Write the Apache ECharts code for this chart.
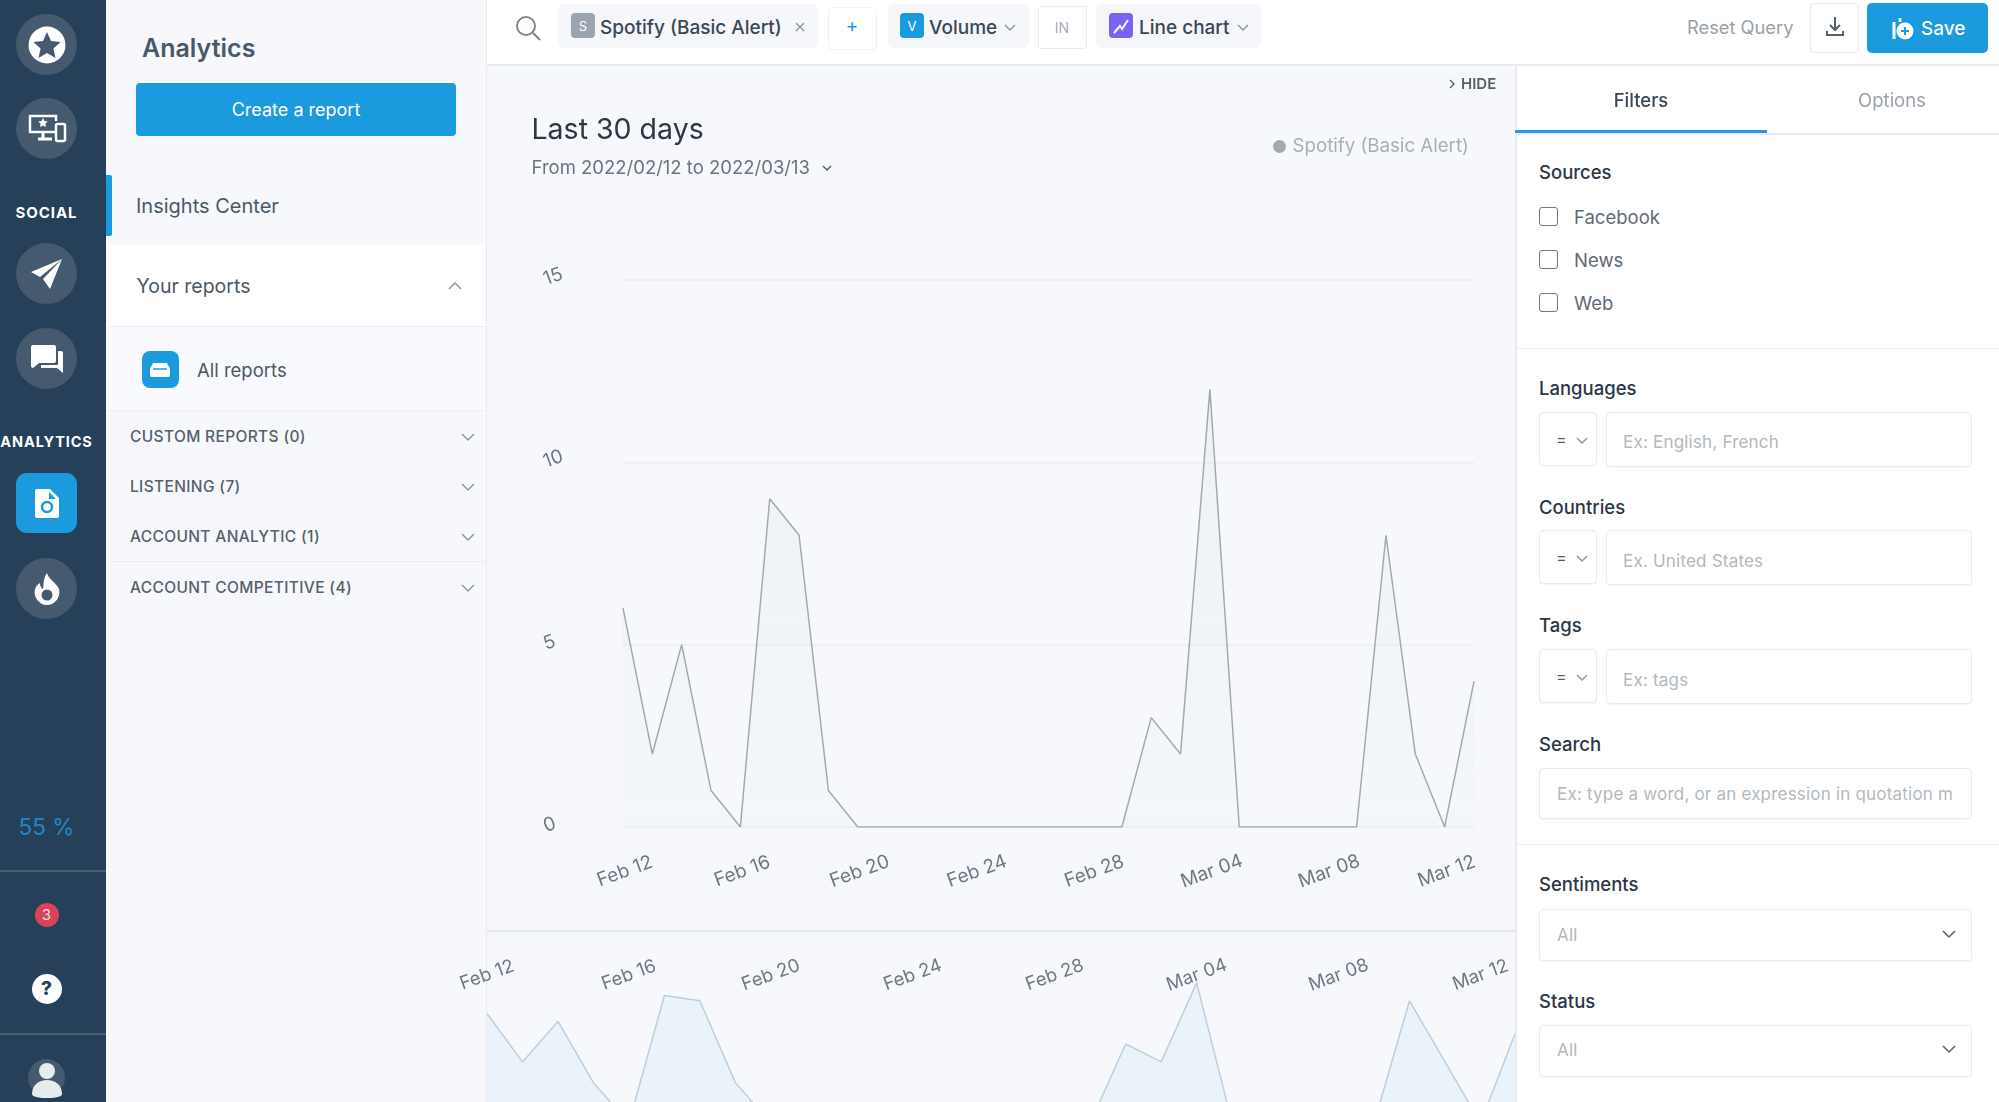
<!DOCTYPE html>
<html>
<head>
<meta charset="utf-8">
<title>Analytics</title>
<script src="https://cdn.jsdelivr.net/npm/echarts@6/dist/echarts.min.js"></script>
<style>
html, body { margin: 0; padding: 0; width: 1999px; height: 1102px; overflow: hidden; background: #f6f8fc; font-family: Inter, "Noto Sans", sans-serif; color: #3b4754; }
.box { position: absolute; box-sizing: border-box; }
.t { position: absolute; transform: translateY(-50%); white-space: nowrap; line-height: 1.2; }
.c { transform: translate(-50%, -50%); }
.nav-circle { position: absolute; left: 16px; width: 61px; height: 61px; border-radius: 50%; background: #45596f; display: flex; align-items: center; justify-content: center; }
.item { font-size: 15.5px; font-weight: 500; color: #56616c; letter-spacing: .35px; left: 130px; }
.label { font-size: 18.5px; font-weight: 500; color: #2b3744; left: 1539px; }
.check { position: absolute; left: 1539px; width: 19px; height: 19px; box-sizing: border-box; border: 1.5px solid #6d7781; border-radius: 3px; background: #fff; }
.checktxt { font-size: 18.5px; color: #5f6a75; left: 1574px; }
.input { position: absolute; box-sizing: border-box; background: #fff; border: 1px solid #e8ebef; border-radius: 4px; box-shadow: 0 1px 1px rgba(40,60,80,.04); }
.ph { font-size: 17px; color: #b2b9c0; letter-spacing: .2px; }
.chip { position: absolute; top: 4px; height: 44px; background: #f5f7fb; border-radius: 6px; }
.chiptxt { font-size: 19px; font-weight: 500; color: #3b4754; top: 27.5px; }
.tag { position: absolute; top: 13px; width: 24px; height: 25px; border-radius: 4px; color: #fff; font-size: 13px; display: flex; align-items: center; justify-content: center; }
svg { position: absolute; overflow: visible; }
.chev { fill: none; stroke: #8f98a2; stroke-width: 1.5; }
#chart { position: absolute; left: 437px; top: 66px; width: 1078px; height: 1036px; }
</style>
</head>
<body>
<!-- left icon rail -->
<div class="box" style="left:0;top:0;width:106px;height:1102px;background:#26405a"></div>
<div class="nav-circle" style="top:14px"><svg width="38" height="38" style="position:static" viewBox="0 0 38 38"><circle cx="19" cy="19" r="18.5" fill="#fff"/><path d="M19 6l4 9 9.6 1-7.2 6.4 2.1 9.5-8.5-4.9-8.500 4.900 2.100-9.500L5.400 16l9.600-1z" fill="#45596f"/></svg></div>
<div class="nav-circle" style="top:98px"><svg width="38" height="30" style="position:static" viewBox="0 0 38 30"><path d="M28 18H2V2h26v5" fill="none" stroke="#fff" stroke-width="2.500"/><path d="M10 25h14M15 18v7" stroke="#fff" stroke-width="3"/><rect x="28" y="10" width="9" height="17" rx="1.500" fill="none" stroke="#fff" stroke-width="2.500"/><path d="M15 4l1.500 3 3.300.400-2.400 2.300.600 3.300-3-1.600-3 1.600.600-3.300-2.400-2.300 3.300-.400z" fill="#fff"/></svg></div>
<div class="t c" style="left:46.500px;top:212.500px;color:#fff;font-size:15px;font-weight:700;letter-spacing:.9px">SOCIAL</div>
<div class="nav-circle" style="top:243px"><svg width="32" height="30" style="position:static" viewBox="0 0 32 30"><path d="M31 0L0 13l9 5zM31 0L12 20l7 10z" fill="#fff"/></svg></div>
<div class="nav-circle" style="top:328px"><svg width="32" height="30" style="position:static" viewBox="0 0 32 30"><path d="M2 0h21a2 2 0 012 2v14a2 2 0 01-2 2H8l-6 5a2 2 0 01-2-2V2a2 2 0 012-2z" fill="#fff" transform="translate(0,1)"/><path d="M27 7h3a2 2 0 012 2v20l-6-5H10v-3h16a1 1 0 001-1z" fill="#fff"/></svg></div>
<div class="t c" style="left:46.500px;top:441.500px;color:#fff;font-size:14.500px;font-weight:700;letter-spacing:.9px">ANALYTICS</div>
<div class="box" style="left:16px;top:473px;width:61px;height:60px;border-radius:11px;background:#1b9ade;display:flex;align-items:center;justify-content:center"><svg width="24" height="29" style="position:static" viewBox="0 0 24 29"><path d="M2 0h13l9 9v18a2 2 0 01-2 2H2a2 2 0 01-2-2V2a2 2 0 012-2z" fill="#fff"/><circle cx="12" cy="18" r="5" fill="none" stroke="#1b9ade" stroke-width="2.500"/><path d="M14 3v7h7" fill="#1b9ade"/></svg></div>
<div class="nav-circle" style="top:558px"><svg width="26" height="32" style="position:static" viewBox="0 0 26 32"><path d="M13 0c1 6 9 9 12 16 2 8-4 16-12 16S-1 24 1 16c1-3 3-5 5-6 0 3 1 5 3 6 1-5 0-11 4-16z" fill="#fff"/><circle cx="13" cy="22" r="5.500" fill="#45596f"/></svg></div>
<div class="t c" style="left:46.500px;top:825.500px;color:#2188c4;font-size:22.500px">55 %</div>
<div class="box" style="left:0;top:870px;width:106px;height:1.500px;background:#4a5f75"></div>
<div class="box" style="left:34.500px;top:903px;width:24px;height:24px;border-radius:50%;background:#d9435a"></div>
<div class="t c" style="left:46.500px;top:915px;color:#fbdde2;font-size:15px">3</div>
<div class="box" style="left:31.500px;top:974px;width:30px;height:30px;border-radius:50%;background:#fff"></div>
<div class="t c" style="left:46.500px;top:989px;color:#26405a;font-size:19px;font-weight:800">?</div>
<div class="box" style="left:0;top:1033px;width:106px;height:1.500px;background:#4a5f75"></div>
<div class="nav-circle" style="left:28px;top:1059px;width:37px;height:37px"></div>
<svg width="32" height="36" style="left:31px;top:1062px" viewBox="0 0 32 36"><circle cx="16" cy="9" r="8" fill="#e6ebee"/><path d="M1 32c0-9 7-14 15-14s15 5 15 14c0 2-4 4-15 4S1 34 1 32z" fill="#e6ebee"/></svg>

<!-- reports sidebar -->
<div class="box" style="left:106px;top:0;width:381px;height:1102px;background:#f6f8fc;border-right:1px solid #e8ebef"></div>
<div class="t" style="left:142px;top:47.500px;font-size:25px;font-weight:600;color:#4b5866">Analytics</div>
<div class="box" style="left:136px;top:83px;width:320px;height:53px;background:#1b9ade;border-radius:4px"></div>
<div class="t c" style="left:296px;top:109.500px;font-size:18px;color:#fff">Create a report</div>
<div class="box" style="left:106px;top:175px;width:6px;height:61px;background:#1b9ade;border-radius:0 2px 2px 0"></div>
<div class="t" style="left:136px;top:205.500px;font-size:20px;color:#4b5866">Insights Center</div>
<div class="box" style="left:107px;top:245px;width:379px;height:82px;background:#fff;border-bottom:1px solid #eceff3"></div>
<div class="t" style="left:136.500px;top:286.500px;font-size:19.500px;color:#4b5866">Your reports</div>
<svg width="14" height="8" style="left:448px;top:282px"><path class="chev" d="M1 7l6-6 6 6"/></svg>
<div class="box" style="left:107px;top:327px;width:379px;height:84px;background:#f8fafd;border-bottom:1px solid #eef0f4"></div>
<div class="box" style="left:142px;top:351px;width:37px;height:37px;background:#1b9ade;border-radius:8px"></div>
<svg width="20" height="15" style="left:150px;top:362px" viewBox="0 0 20 15"><path d="M3 1h14l3 6v6a2 2 0 01-2 2H2a2 2 0 01-2-2V7z" fill="#fff"/><path d="M3 7h14" stroke="#1b9ade" stroke-width="1.500"/></svg>
<div class="t" style="left:197px;top:369.500px;font-size:18.500px;color:#4b5866">All reports</div>
<div class="t item" style="top:436.500px">CUSTOM REPORTS (0)</div>
<div class="t item" style="top:486.500px">LISTENING (7)</div>
<div class="t item" style="top:537px">ACCOUNT ANALYTIC (1)</div>
<div class="t item" style="top:587.500px">ACCOUNT COMPETITIVE (4)</div>
<svg width="14" height="8" style="left:461px;top:432.500px"><path class="chev" d="M1 1l6 6 6-6"/></svg>
<svg width="14" height="8" style="left:461px;top:482.500px"><path class="chev" d="M1 1l6 6 6-6"/></svg>
<svg width="14" height="8" style="left:461px;top:533px"><path class="chev" d="M1 1l6 6 6-6"/></svg>
<svg width="14" height="8" style="left:461px;top:583.500px"><path class="chev" d="M1 1l6 6 6-6"/></svg>
<div class="box" style="left:111px;top:561px;width:375px;height:1px;background:#e9ecf0"></div>

<!-- chart panel -->
<div class="box" style="left:487px;top:930px;width:1028px;height:2px;background:#e4e7eb"></div>
<div id="chart"></div>
<div class="t" style="left:531.500px;top:128.500px;font-size:28.500px;color:#2d3844">Last 30 days</div>
<div class="t" style="left:531.500px;top:166.500px;font-size:18.500px;color:#6a7580">From 2022/02/12 to 2022/03/13</div>
<svg width="10" height="6" style="left:822px;top:165px"><path d="M1 1l4 4 4-4" fill="none" stroke="#56616c" stroke-width="1.500"/></svg>
<svg width="6" height="10" style="left:1449px;top:79px"><path d="M1 1l4 4-4 4" fill="none" stroke="#56616c" stroke-width="1.300"/></svg>
<div class="t" style="left:1461px;top:84px;font-size:15px;font-weight:600;color:#56616c">HIDE</div>

<!-- top bar -->
<div class="box" style="left:487px;top:0;width:1512px;height:66px;background:#fff;border-bottom:2px solid #e8ebef"></div>
<svg width="26" height="26" style="left:515px;top:15px" viewBox="0 0 26 26"><circle cx="11" cy="11" r="9" fill="none" stroke="#7c8691" stroke-width="2"/><path d="M18 18l7 7" stroke="#7c8691" stroke-width="2"/></svg>
<div class="chip" style="left:558px;width:260px"></div>
<div class="tag" style="left:571px;background:#9aa5b1">S</div>
<div class="t chiptxt" style="left:600px">Spotify (Basic Alert)</div>
<svg width="10" height="10" style="left:795px;top:22px"><path d="M1 1l8 8M9 1l-8 8" stroke="#8f98a2" stroke-width="1.300"/></svg>
<div class="box" style="left:828px;top:7px;width:49px;height:43px;border:1px solid #f0f2f5;border-radius:4px"></div>
<div class="t c" style="left:852px;top:26px;font-size:19px;color:#1b9ade">+</div>
<div class="chip" style="left:888px;width:141px"></div>
<div class="tag" style="left:900px;background:#1b9ade">V</div>
<div class="t chiptxt" style="left:929px">Volume</div>
<svg width="12" height="7" style="left:1004px;top:24px"><path class="chev" d="M1 1l5 5 5-5"/></svg>
<div class="box" style="left:1038px;top:6px;width:49px;height:43px;border:1px solid #e8ebef;border-radius:3px"></div>
<div class="t c" style="left:1062px;top:28px;font-size:14px;color:#a5acb4">IN</div>
<div class="chip" style="left:1096px;width:165px"></div>
<div class="tag" style="left:1109px;background:#7b61f5"><svg width="16" height="16" style="position:static"><path d="M1 15L7 8l2 3 6-9" fill="none" stroke="#fff" stroke-width="2"/></svg></div>
<div class="t chiptxt" style="left:1139px">Line chart</div>
<svg width="12" height="7" style="left:1237px;top:24px"><path class="chev" d="M1 1l5 5 5-5"/></svg>
<div class="t" style="left:1687px;top:27.500px;font-size:18.300px;color:#9aa1a9">Reset Query</div>
<div class="box" style="left:1810px;top:3px;width:49px;height:50px;background:#fff;border:1px solid #e8ebef;border-radius:4px"></div>
<svg width="18" height="20" style="left:1826px;top:17px" viewBox="0 0 18 20"><path d="M9 0v12M4 8l5 5 5-5" fill="none" stroke="#56616c" stroke-width="2"/><path d="M1 14v4h16v-4" fill="none" stroke="#56616c" stroke-width="2"/></svg>
<div class="box" style="left:1867px;top:3px;width:121px;height:50px;background:#1b9ade;border-radius:5px"></div>
<svg width="22" height="22" style="left:1892px;top:18px" viewBox="0 0 22 22"><path d="M2 4v17" stroke="#fff" stroke-width="3"/><path d="M8 0v4" stroke="#fff" stroke-width="2.500"/><circle cx="13" cy="13" r="8.500" fill="#fff"/><path d="M13 9v8M9 13h8" stroke="#1b9ade" stroke-width="2"/></svg>
<div class="t" style="left:1921px;top:29px;font-size:19px;font-weight:500;color:#fff">Save</div>

<!-- filter panel -->
<div class="box" style="left:1515px;top:66px;width:484px;height:1036px;background:#fff;border-left:2px solid #e8ebef"></div>
<div class="t c" style="left:1641px;top:100px;font-size:18.500px;font-weight:500;color:#3b4754">Filters</div>
<div class="t c" style="left:1892px;top:100px;font-size:18.500px;color:#9aa1a9">Options</div>
<div class="box" style="left:1517px;top:133px;width:482px;height:1.500px;background:#e8ebef"></div>
<div class="box" style="left:1515px;top:130px;width:252px;height:3px;background:#2f93dd"></div>
<div class="t label" style="top:171.500px">Sources</div>
<div class="check" style="top:207px"></div><div class="t checktxt" style="top:217px">Facebook</div>
<div class="check" style="top:250px"></div><div class="t checktxt" style="top:260px">News</div>
<div class="check" style="top:293px"></div><div class="t checktxt" style="top:303px">Web</div>
<div class="box" style="left:1517px;top:348px;width:482px;height:1px;background:#edeff2"></div>

<div class="t label" style="top:387.500px">Languages</div>
<div class="input" style="left:1539px;top:412px;width:58px;height:54px"></div>
<div class="t" style="left:1556px;top:440px;font-size:16px;color:#56616c">=</div>
<svg width="12" height="7" style="left:1576px;top:437px"><path class="chev" d="M1 1l5 5 5-5"/></svg>
<div class="input" style="left:1606px;top:412px;width:366px;height:55px"></div>
<div class="t ph" style="left:1623px;top:442px">Ex: English, French</div>

<div class="t label" style="top:506.500px">Countries</div>
<div class="input" style="left:1539px;top:530px;width:58px;height:54px"></div>
<div class="t" style="left:1556px;top:558px;font-size:16px;color:#56616c">=</div>
<svg width="12" height="7" style="left:1576px;top:555px"><path class="chev" d="M1 1l5 5 5-5"/></svg>
<div class="input" style="left:1606px;top:530px;width:366px;height:55px"></div>
<div class="t ph" style="left:1623px;top:561px">Ex. United States</div>

<div class="t label" style="top:625px">Tags</div>
<div class="input" style="left:1539px;top:649px;width:58px;height:54px"></div>
<div class="t" style="left:1556px;top:677px;font-size:16px;color:#56616c">=</div>
<svg width="12" height="7" style="left:1576px;top:674px"><path class="chev" d="M1 1l5 5 5-5"/></svg>
<div class="input" style="left:1606px;top:649px;width:366px;height:55px"></div>
<div class="t ph" style="left:1623px;top:679.500px">Ex: tags</div>

<div class="t label" style="top:744px">Search</div>
<div class="input" style="left:1539px;top:768px;width:433px;height:51px"></div>
<div class="box" style="left:1557px;top:780px;width:396px;height:28px;overflow:hidden"><div class="t ph" style="left:0;top:14px">Ex: type a word, or an expression in quotation marks</div></div>
<div class="box" style="left:1517px;top:844px;width:482px;height:1px;background:#edeff2"></div>

<div class="t label" style="top:884px">Sentiments</div>
<div class="input" style="left:1539px;top:909px;width:433px;height:52px"></div>
<div class="t ph" style="left:1557px;top:935px">All</div>
<svg width="14" height="8" style="left:1942px;top:930px"><path class="chev" d="M1 1l6 6 6-6" style="stroke:#56616c"/></svg>

<div class="t label" style="top:1000.500px">Status</div>
<div class="input" style="left:1539px;top:1025px;width:433px;height:52px"></div>
<div class="t ph" style="left:1557px;top:1050px">All</div>
<svg width="14" height="8" style="left:1942px;top:1045px"><path class="chev" d="M1 1l6 6 6-6" style="stroke:#56616c"/></svg>

<script>
var days = ['Feb 12', 'Feb 13', 'Feb 14', 'Feb 15', 'Feb 16', 'Feb 17', 'Feb 18', 'Feb 19', 'Feb 20', 'Feb 21',
    'Feb 22', 'Feb 23', 'Feb 24', 'Feb 25', 'Feb 26', 'Feb 27', 'Feb 28', 'Mar 01', 'Mar 02', 'Mar 03',
    'Mar 04', 'Mar 05', 'Mar 06', 'Mar 07', 'Mar 08', 'Mar 09', 'Mar 10', 'Mar 11', 'Mar 12', 'Mar 13'];
var volume = [6, 2, 5, 1, 0, 9, 8, 1, 0, 0, 0, 0, 0, 0, 0, 0, 0, 0, 3, 2, 12, 0, 0, 0, 0, 0, 8, 2, 0, 4];
var overview = [6, 2, 5, 1.25, 0.5, 9, 8, 1.25, 0.5, 0.5, 0.5, 0.5, 0.5, 0.5, 0.5, 0.5, 0.5, 0.5, 3, 2, 12, 0.5, 0.5, 0.5, 0.5, 0.5, 8, 2, 0.5, 4];
var yTicks = [0, 5, 10, 15];

var labelFont = 'Inter';
var chart = echarts.init(document.getElementById('chart'));
chart.setOption({
    animation: false,
    backgroundColor: 'transparent',
    legend: {
        data: ['Spotify (Basic Alert)'],
        left: 836,
        top: 71,
        padding: 0,
        icon: 'circle',
        itemWidth: 16,
        itemHeight: 13,
        textStyle: { color: '#a9afb6', fontSize: 18.7, fontFamily: labelFont }
    },
    grid: [
        { left: 186, top: 214, width: 851, height: 547, outerBoundsMode: 'none' },
        { left: 50, top: 899, width: 1029, height: 229, outerBoundsMode: 'none' }
    ],
    xAxis: [{
        type: 'category',
        gridIndex: 0,
        data: days,
        boundaryGap: false,
        axisLine: { show: false },
        axisTick: { show: false },
        axisLabel: {
            interval: 3, rotate: 20, margin: 45, align: 'center', verticalAlign: 'middle', padding: [0, 0, 0, 4],
            color: '#6f7983', fontSize: 19, fontFamily: labelFont, hideOverlap: false
        }
    }, {
        type: 'category',
        gridIndex: 1,
        position: 'top',
        data: days,
        boundaryGap: false,
        axisLine: { show: false },
        axisTick: { show: false },
        axisLabel: {
            inside: true, interval: 3, rotate: -20, margin: 10, align: 'center', verticalAlign: 'middle',
            color: '#6f7983', fontSize: 18.5, fontFamily: labelFont, hideOverlap: false
        }
    }],
    yAxis: [{
        type: 'value',
        gridIndex: 0,
        min: yTicks[0],
        max: yTicks[yTicks.length - 1],
        interval: 5,
        axisLine: { show: false },
        axisTick: { show: false },
        axisLabel: {
            rotate: 20, margin: 79, align: 'left', verticalAlign: 'middle',
            color: '#6f7983', fontSize: 19, fontFamily: labelFont
        },
        splitLine: { lineStyle: { color: '#eef0f4', width: 2 } }
    }, {
        type: 'log',
        gridIndex: 1,
        min: 0.1,
        max: 18,
        show: false,
        splitLine: { show: false }
    }],
    series: [{
        name: 'Spotify (Basic Alert)',
        type: 'line',
        xAxisIndex: 0,
        yAxisIndex: 0,
        data: volume,
        showSymbol: false,
        symbol: 'circle',
        itemStyle: { color: '#a3a9b0' },
        lineStyle: { color: '#a3a9b0', width: 1.5 },
        areaStyle: {
            color: new echarts.graphic.LinearGradient(0, 0, 0, 1, [
                { offset: 0, color: 'rgba(150,165,180,0.11)' },
                { offset: 1, color: 'rgba(150,165,180,0.03)' }
            ])
        }
    }, {
        name: 'Overview',
        type: 'line',
        xAxisIndex: 1,
        yAxisIndex: 1,
        data: overview,
        showSymbol: false,
        lineStyle: { color: '#bccfdb', width: 1.5 },
        areaStyle: { origin: 'start', color: '#e6f1f8' }
    }]
});
</script>
</body>
</html>
